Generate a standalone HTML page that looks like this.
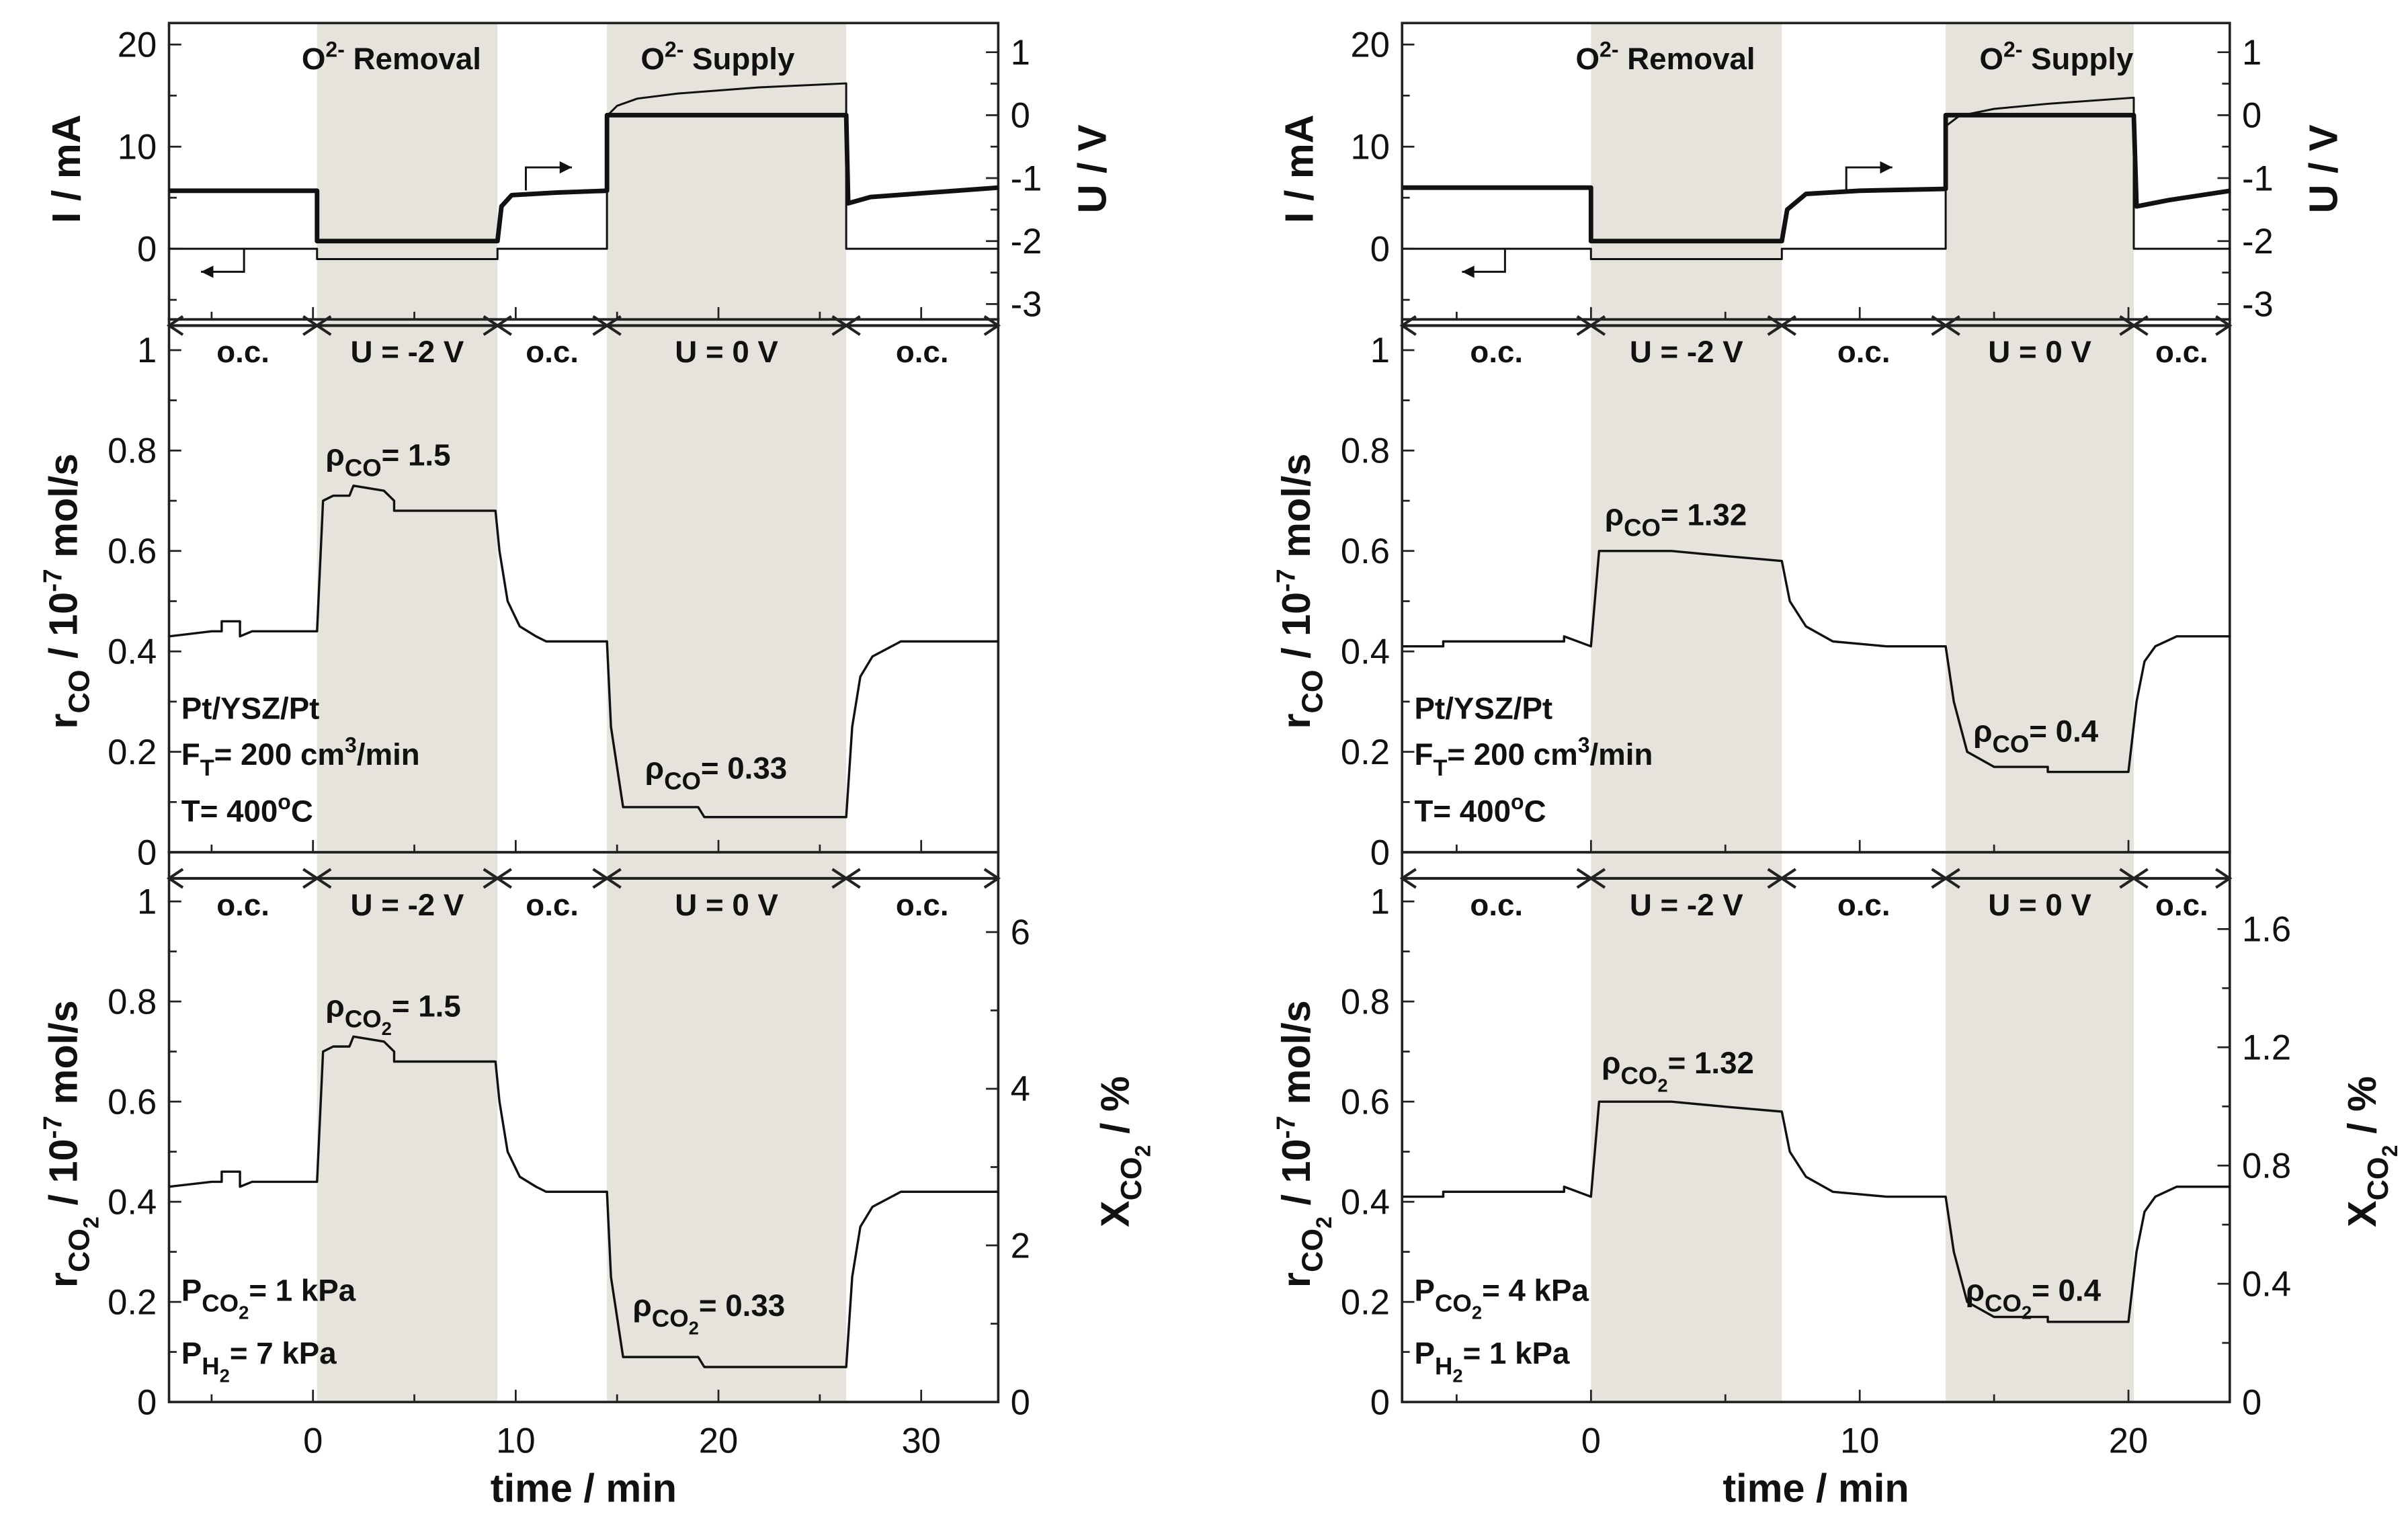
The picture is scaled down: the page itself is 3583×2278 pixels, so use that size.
<!DOCTYPE html>
<html><head><meta charset="utf-8"><style>
html,body{margin:0;padding:0;background:#fff}
svg{display:block}
text{font-family:"Liberation Sans Narrow","Liberation Sans",sans-serif;fill:#111}
.tk{font-size:23px}
.b{font-weight:bold}
.tt{font-family:"Liberation Sans",sans-serif;font-weight:bold;font-size:26px}
</style></head><body>
<svg id="fig" width="3583" height="2278" viewBox="0 0 1568 997" xmlns="http://www.w3.org/2000/svg">
<g id="root"></g>
</svg>
<script>
// ---------- data ----------
const L_phaseBounds = [0.2, 9.1, 14.5, 26.3];
const R_phaseBounds = [0, 7.1, 13.2, 20.2];
const L_phaseLabels = ["o.c.", "U = -2 V", "o.c.", "U = 0 V", "o.c."];
const R_phaseLabels = ["o.c.", "U = -2 V", "o.c.", "U = 0 V", "o.c."];
const L_timeTicks = [0, 10, 20, 30];
const R_timeTicks = [0, 10, 20];
const I_ticks = [0, 10, 20];
const U_ticks = [1, 0, -1, -2, -3];
const r_ticks = [0, 0.2, 0.4, 0.6, 0.8, 1];
const L_X_ticks = [0, 2, 4, 6];
const R_X_ticks = [0, 0.4, 0.8, 1.2, 1.6];

const L_U_t = [-7.1,0.2,0.2,9.1,9.3,9.8,12,14.5,14.5,26.3,26.4,27.5,33.8];
const L_U_v = [-1.2,-1.2,-2,-2,-1.45,-1.27,-1.23,-1.2,0,0,-1.4,-1.3,-1.15];
const L_I_t = [-7.1,0.2,0.2,9.1,9.1,14.5,14.5,15,16,18,22,26.3,26.3,33.8];
const L_I_v = [0,0,-1,-1,0,0,13,14,14.7,15.2,15.8,16.2,0,0];
const R_U_t = [-7,0,0,7.1,7.3,8,10,13.2,13.2,20.2,20.3,21.5,23.8];
const R_U_v = [-1.15,-1.15,-2,-2,-1.5,-1.25,-1.2,-1.17,0,0,-1.45,-1.35,-1.2];
const R_I_t = [-7,0,0,7.1,7.1,13.2,13.2,13.7,15,17,20.2,20.2,23.8];
const R_I_v = [0,0,-1,-1,0,0,12,13,13.7,14.2,14.8,0,0];

const L_rco_t = [-7.1,-5,-4.5,-4.5,-3.6,-3.6,-3,0.2,0.5,1,1.8,2,3.5,4,4,9,9.2,9.6,10.2,11,11.5,14.5,14.7,15.3,19,19.3,26.3,26.6,27,27.6,29,33.8];
const L_rco_v = [0.43,0.44,0.44,0.46,0.46,0.43,0.44,0.44,0.70,0.71,0.71,0.73,0.72,0.70,0.68,0.68,0.6,0.5,0.45,0.43,0.42,0.42,0.25,0.09,0.09,0.07,0.07,0.25,0.35,0.39,0.42,0.42];
const L_rco2_t = L_rco_t.slice();
const L_rco2_v = [0.43,0.44,0.44,0.46,0.46,0.43,0.44,0.44,0.70,0.71,0.71,0.73,0.72,0.70,0.68,0.68,0.6,0.5,0.45,0.43,0.42,0.42,0.25,0.09,0.09,0.07,0.07,0.25,0.35,0.39,0.42,0.42];
const R_rco_t = [-7,-5.5,-5.5,-1,-1,0,0.3,3,5,7.1,7.4,8,9,11,13.2,13.5,14,15,17,17,20,20.3,20.6,21,21.8,23.8];
const R_rco_v = [0.41,0.41,0.42,0.42,0.43,0.41,0.60,0.60,0.59,0.58,0.5,0.45,0.42,0.41,0.41,0.3,0.2,0.17,0.17,0.16,0.16,0.3,0.38,0.41,0.43,0.43];
const R_rco2_t = R_rco_t.slice();
const R_rco2_v = [0.41,0.41,0.42,0.42,0.43,0.41,0.60,0.60,0.59,0.58,0.5,0.45,0.42,0.41,0.41,0.3,0.2,0.17,0.17,0.16,0.16,0.3,0.38,0.41,0.43,0.43];

// ---------- helpers ----------
const NS = "http://www.w3.org/2000/svg";
const root = document.getElementById("root");
function mk(tag, attrs, parent, txt){
  const e = document.createElementNS(NS, tag);
  for (const k in attrs) e.setAttribute(k, attrs[k]);
  if (txt !== undefined) e.textContent = txt;
  (parent || root).appendChild(e);
  return e;
}
function lin(d0,d1,r0,r1){ return v => r0 + (v-d0)*(r1-r0)/(d1-d0); }
function fmt(v){ return (Math.round(v*10)/10).toString(); }

function drawPanel(P){
  const g = mk("g", {});
  
  
  const x = lin(P.t0, P.t1, P.x0, P.x1);
  const yI = lin(0, 20, 162, 29);
  const yU = lin(0, 1, 75, 34);
  const yR = lin(0, 1, 555, 228);
  const yR2 = lin(0, 1, 913, 587);
  const yX = lin(0, P.Xmax, 913, P.XmaxY);
  for (const [a,b] of [[P.bounds[0],P.bounds[1]],[P.bounds[2],P.bounds[3]]]){
    const s = mk("rect", {x:x(a), y:15, width:x(b)-x(a), height:898, fill:"#e5e3dc"}, g);
    
    
  }
  for (const [y0,y1] of [[15,208],[208,555],[555,913]]){
    mk("rect", {x:P.x0, y:y0, width:P.x1-P.x0, height:y1-y0, fill:"none", stroke:"#222", "stroke-width":1.6}, g);
  }
  for (let t = Math.ceil(P.t0/5)*5; t <= P.t1; t += 5){
    const len = (t%10===0)?8:5;
    for (const [y0,y1] of [[15,208],[208,555],[555,913]]){
      mk("line",{x1:x(t),x2:x(t),y1:y1,y2:y1-len,stroke:"#222","stroke-width":1.2},g);
    }
  }
  for (const t of P.timeTicks){
    const tl = mk("text",{x:x(t),y:946,"text-anchor":"middle",class:"tk"},g,t);
    
    
  }
  const xt = mk("text",{x:(P.x0+P.x1)/2,y:978,"text-anchor":"middle",class:"tt"},g,"time / min");
  
  
  function yTicks(ticks, yf, minorStep, lo, hi, side, labelFn){
    const xa = side==="l"?P.x0:P.x1, dir = side==="l"?1:-1;
    for (let v = lo; v <= hi+1e-9; v += minorStep){
      const major = ticks.some(tv => Math.abs(tv-v)<1e-6);
      mk("line",{x1:xa,x2:xa+dir*(major?8:5),y1:yf(v),y2:yf(v),stroke:"#222","stroke-width":1.2},g);
    }
    for (const v of ticks){
      const tl = mk("text",{x:side==="l"?xa-8:xa+8,y:yf(v)+8,"text-anchor":side==="l"?"end":"start",class:"tk"},g,labelFn?labelFn(v):v);
      
      
    }
  }
  yTicks(I_ticks, yI, 5, -5, 20, "l");
  yTicks(U_ticks, yU, 0.5, -3, 1, "r");
  yTicks(r_ticks, yR, 0.1, 0, 1, "l");
  yTicks(r_ticks, yR2, 0.1, 0, 1, "l");
  yTicks(P.Xticks, yX, P.Xminor, 0, P.Xmax, "r", fmt);
  const all = [P.t0].concat(P.bounds).concat([P.t1]);
  for (const [yy, name] of [[212,'phase-arrows-middle'],[572,'phase-arrows-bottom']]){
    const ga = mk("g",{},g);
    
    
    mk("line",{x1:P.x0,x2:P.x1,y1:yy,y2:yy,stroke:"#222","stroke-width":1.8},ga);
    for (let i=0;i<all.length;i++){
      const xx = x(all[i]);
      if (i>0) mk("path",{d:`M${xx-9},${yy-6} L${xx},${yy} L${xx-9},${yy+6}`,fill:"none",stroke:"#222","stroke-width":1.8},ga);
      if (i<all.length-1) mk("path",{d:`M${xx+9},${yy-6} L${xx},${yy} L${xx+9},${yy+6}`,fill:"none",stroke:"#222","stroke-width":1.8},ga);
    }
    for (let i=0;i<P.labels.length;i++){
      const cx = (x(all[i])+x(all[i+1]))/2;
      const tl = mk("text",{x:cx,y:yy+24,"text-anchor":"middle",class:"b",style:"font-size:20px"},ga,P.labels[i]);
      
      
    }
  }
  function series(ts, vs, yf, w, name){
    const pts = ts.map((t,i)=>x(t).toFixed(1)+","+yf(vs[i]).toFixed(1)).join(" ");
    const pl = mk("polyline",{points:pts,fill:"none",stroke:"#111","stroke-width":w,"stroke-linejoin":"round"},g);
    
    
  }
  series(P.It, P.Iv, yI, 1.3, 'current-line');
  series(P.Ut, P.Uv, yU, 3, 'voltage-line');
  series(P.rt, P.rv, yR, 1.5, 'rco-line');
  series(P.r2t, P.r2v, yR2, 1.5, 'rco2-line');
  const ax1 = x(P.arrowL[0]), ay1 = 162;
  mk("path",{d:`M${ax1},${ay1} V${ay1+15} H${ax1-28}`,fill:"none",stroke:"#111","stroke-width":1.3},g);
  mk("path",{d:`M${ax1-28},${ay1+15} l8,-4 v8 z`,fill:"#111"},g);
  const ax2 = x(P.arrowR[0]), ay2 = P.arrowR[1];
  mk("path",{d:`M${ax2},${ay2} V${ay2-15} H${ax2+30}`,fill:"none",stroke:"#111","stroke-width":1.3},g);
  mk("path",{d:`M${ax2+30},${ay2-15} l-8,-4 v8 z`,fill:"#111"},g);
  function rotText(cx, cy, html, name){
    const t = mk("text",{transform:`translate(${cx},${cy}) rotate(-90)`,"text-anchor":"middle",class:"tt"},g);
    t.innerHTML = html;
    
    
  }
  rotText(P.x0-58, 110, "I / mA", 'y-axis-title-current');
  rotText(P.x1+70, 110, "U / V", 'y-axis-title-voltage');
  rotText(P.x0-60, 385, 'r<tspan dy="8" font-size="19">CO</tspan><tspan dy="-8"> / 10</tspan><tspan dy="-10" font-size="17">-7</tspan><tspan dy="10"> mol/s</tspan>', 'y-axis-title-rco');
  rotText(P.x0-60, 745, 'r<tspan dy="8" font-size="19">CO</tspan><tspan dy="6" font-size="14">2</tspan><tspan dy="-14"> / 10</tspan><tspan dy="-10" font-size="17">-7</tspan><tspan dy="10"> mol/s</tspan>', 'y-axis-title-rco2');
  rotText(P.x1+P.Xoff, 750, 'X<tspan dy="8" font-size="19">CO</tspan><tspan dy="6" font-size="14">2</tspan><tspan dy="-14"> / %</tspan>', 'y-axis-title-conversion');
  function ann(xx, yy, html, name, size){
    const t = mk("text",{x:xx,y:yy,class:"b",style:"font-size:"+(size||20)+"px"},g);
    t.innerHTML = html;
    
    
  }
  ann(x(P.bounds[0])-10, 45, 'O<tspan dy="-8" font-size="14">2-</tspan><tspan dy="8"> Removal</tspan>', 'removal-label');
  ann(x(P.bounds[2])+22, 45, 'O<tspan dy="-8" font-size="14">2-</tspan><tspan dy="8"> Supply</tspan>', 'supply-label');
  for (const a of P.rhos){
    ann(a[0], a[1], 'ρ<tspan dy="7" font-size="16">CO</tspan>'+(a[3]?'<tspan dy="5" font-size="12">2</tspan><tspan dy="-12">':'<tspan dy="-7">')+'= '+a[2]+'</tspan>', 'rho-annotation');
  }
  ann(P.x0+8, 468, 'Pt/YSZ/Pt', 'electrode-label');
  ann(P.x0+8, 498, 'F<tspan dy="7" font-size="15">T</tspan><tspan dy="-7">= 200 cm</tspan><tspan dy="-8" font-size="14">3</tspan><tspan dy="8">/min</tspan>', 'flow-label');
  ann(P.x0+8, 535, 'T= 400<tspan dy="-8" font-size="14">o</tspan><tspan dy="8">C</tspan>', 'temperature-label');
  ann(P.x0+8, 847, 'P<tspan dy="7" font-size="16">CO</tspan><tspan dy="5" font-size="12">2</tspan><tspan dy="-12">= '+P.pco2+' kPa</tspan>', 'pco2-label');
  ann(P.x0+8, 888, 'P<tspan dy="7" font-size="16">H</tspan><tspan dy="5" font-size="12">2</tspan><tspan dy="-12">= '+P.ph2+' kPa</tspan>', 'ph2-label');
}

drawPanel({name:'left-chart', x0:110, x1:650, t0:-7.1, t1:33.8, bounds:L_phaseBounds, labels:L_phaseLabels, timeTicks:L_timeTicks,
  Xticks:L_X_ticks, Xmax:6, XmaxY:607, Xminor:1, Xoff:85,
  It:L_I_t, Iv:L_I_v, Ut:L_U_t, Uv:L_U_v, rt:L_rco_t, rv:L_rco_v, r2t:L_rco2_t, r2v:L_rco2_v,
  arrowL:[-3.4], arrowR:[10.5,124],
  rhos:[[212,303,'1.5',false],[420,507,'0.33',false],[212,662,'1.5',true],[412,857,'0.33',true]],
  pco2:'1', ph2:'7'});
drawPanel({name:'right-chart', x0:913, x1:1452, t0:-7.03, t1:23.77, bounds:R_phaseBounds, labels:R_phaseLabels, timeTicks:R_timeTicks,
  Xticks:R_X_ticks, Xmax:1.6, XmaxY:605, Xminor:0.2, Xoff:95,
  It:R_I_t, Iv:R_I_v, Ut:R_U_t, Uv:R_U_v, rt:R_rco_t, rv:R_rco_v, r2t:R_rco2_t, r2v:R_rco2_v,
  arrowL:[-3.2], arrowR:[9.5,124],
  rhos:[[1045,342,'1.32',false],[1285,483,'0.4',false],[1043,699,'1.32',true],[1280,847,'0.4',true]],
  pco2:'4', ph2:'1'});
</script>
</body></html>
